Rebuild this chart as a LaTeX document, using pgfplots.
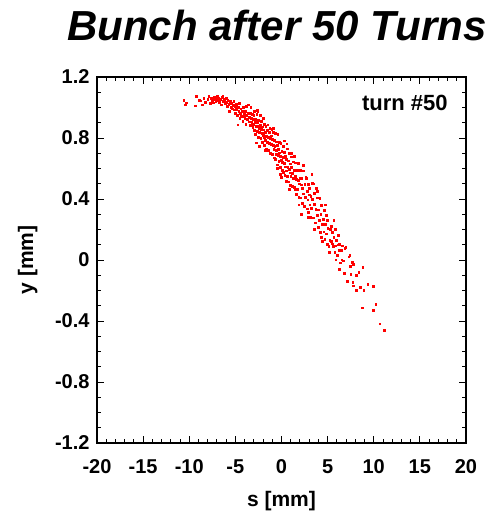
\documentclass[border=0pt]{standalone}
\usepackage{pgfplots}
\pgfplotsset{compat=1.18}
\usepackage{fontspec}
\setmainfont{Liberation Sans}
\begin{document}
\begin{tikzpicture}
\useasboundingbox (0,0) rectangle (491pt,520pt);
\begin{axis}[
  at={(97pt,77pt)}, anchor=south west,
  scale only axis, width=369pt, height=366pt,
  xmin=-20, xmax=20, ymin=-1.2, ymax=1.2,
  xtick={-20,-15,-10,-5,0,5,10,15,20},
  ytick={-1.2,-0.8,-0.4,0,0.4,0.8,1.2},
  minor x tick num=4, minor y tick num=3,
  tick align=inside,
  major tick length=7pt, minor tick length=4pt,
  every tick/.style={black, line width=0.9pt},
  axis line style={line width=1.3pt},
  /pgf/number format/assume math mode=true,
  tick label style={font=\fontsize{20}{24}\selectfont\bfseries},
  xticklabel style={yshift=-13pt},
  yticklabel style={xshift=-4pt, /pgf/number format/fixed, /pgf/number format/precision=1},
  xlabel={s [mm]}, ylabel={y [mm]},
  label style={font=\fontsize{21}{25}\selectfont\bfseries},
  xlabel style={at={(axis description cs:0.5,-0.158)}, anchor=center},
  ylabel style={at={(axis description cs:-0.188,0.5)}, anchor=center},
]
\addplot[red, only marks, mark=square*, mark size=0.9pt, mark options={solid, draw=red, fill=red, line width=0pt}] table[row sep=\\] {
x y\\
-10.57 1.044\\ -10.43 1.016\\ -10.3 1.03\\ -9.24 1.071\\ -9.34 1.01\\
-8.9 1.045\\ -8.76 1.043\\ -8.58 1.016\\ -8.4 1.06\\ -8.2 1.035\\ -7.97 1.05\\ -7.85 1.07\\ -7.7 1.025\\
-7.6 1.06\\ -7.5 1.045\\ -7.4 1.03\\ -7.3 1.068\\ -7.2 1.05\\ -7.1 1.04\\ -7.05 1.062\\
-6.96 1.071\\ -6.9 1.045\\ -6.8 1.06\\ -6.7 1.035\\ -6.62 1.055\\ -6.5 1.016\\ -6.45 1.065\\ -6.34 1.071\\
-6.3 1.04\\ -6.2 1.05\\ -6.1 1.025\\ -6.0 1.06\\ -5.95 1.035\\ -5.85 1.005\\ -5.8 1.045\\ -5.7 1.02\\
-5.62 0.973\\ -5.55 1.04\\ -5.45 1.0\\ -5.4 1.025\\ -5.3 0.99\\ -5.2 1.015\\ -5.15 1.04\\ -5.07 0.984\\ -5.02 1.005\\
-4.98 0.96\\ -4.9 1.02\\ -4.85 0.985\\ -4.8 0.945\\ -4.72 0.95\\ -4.7 1.0\\ -4.6 0.975\\ -4.53 1.027\\
-4.5 0.93\\ -4.45 0.96\\ -4.38 0.99\\ -4.3 0.94\\ -4.25 0.975\\ -4.17 0.907\\ -4.1 1.0\\ -4.05 0.955\\
-4.0 0.94\\ -3.95 0.925\\ -3.9 0.975\\ -3.85 0.89\\ -3.81 1.005\\ -3.75 0.95\\ -3.7 0.92\\ -3.62 0.96\\
-3.56 1.016\\ -3.5 0.935\\ -3.45 0.905\\ -3.4 0.96\\ -3.35 0.88\\ -3.27 0.93\\ -3.2 0.9\\ -3.15 0.955\\
-3.1 0.87\\ -3.05 0.92\\ -3.0 0.89\\ -4.72 0.885\\ -3.3 1.0\\ -2.6 0.98\\
-2.97 0.945\\ -2.93 0.848\\ -2.9 0.975\\ -2.88 0.9\\ -2.82 0.823\\ -2.78 0.922\\ -2.73 0.767\\ -2.7 0.875\\
-2.66 0.954\\ -2.62 0.843\\ -2.58 0.9\\ -2.55 0.97\\ -2.53 0.879\\ -2.48 0.804\\ -2.45 0.917\\ -2.41 0.862\\
-2.37 0.745\\ -2.35 0.836\\ -2.3 0.949\\ -2.27 0.88\\ -2.22 0.797\\ -2.19 0.856\\ -2.15 0.91\\ -2.1 0.828\\
-2.06 0.772\\ -2.02 0.872\\ -1.98 0.928\\ -1.94 0.818\\ -1.9 0.853\\ -1.86 0.749\\ -1.83 0.805\\ -1.8 0.891\\
-1.76 0.836\\ -1.72 0.781\\ -1.68 0.873\\ -1.63 0.81\\ -1.6 0.728\\ -1.55 0.848\\ -1.5 0.772\\ -1.46 0.885\\
-1.42 0.802\\ -1.38 0.72\\ -1.33 0.834\\ -1.28 0.765\\ -1.24 0.864\\ -1.2 0.796\\ -1.15 0.699\\ -1.1 0.813\\
-1.05 0.758\\ -1.02 0.857\\ -1.7 0.72\\
-0.98 0.789\\ -0.95 0.692\\ -0.9 0.749\\ -0.86 0.834\\ -0.82 0.724\\ -0.78 0.669\\ -0.75 0.782\\ -0.7 0.742\\
-0.66 0.827\\ -0.62 0.66\\ -0.58 0.718\\ -0.55 0.774\\ -0.5 0.692\\ -0.46 0.623\\ -0.42 0.75\\ -0.38 0.822\\
-0.34 0.683\\ -0.3 0.726\\ -0.26 0.644\\ -0.22 0.771\\ -0.18 0.702\\ -0.14 0.606\\ -0.1 0.677\\ -0.06 0.762\\
-0.02 0.651\\ 0.02 0.541\\ 0.05 0.71\\ 0.1 0.641\\ 0.14 0.586\\ 0.18 0.742\\ 0.22 0.673\\ 0.26 0.576\\
0.3 0.634\\ 0.34 0.705\\ 0.38 0.552\\ 0.42 0.61\\ 0.46 0.681\\ 0.5 0.584\\ 0.54 0.516\\ 0.58 0.657\\
0.62 0.728\\ 0.66 0.548\\ 0.7 0.605\\ 0.75 0.649\\ 0.8 0.511\\ 0.84 0.596\\ 0.88 0.696\\ 0.92 0.571\\
0.96 0.489\\ 0.99 0.63\\ -0.9 0.86\\ -0.4 0.6\\ 0.3 0.78\\ 0.6 0.76\\ -0.1 0.56\\
1.03 0.547\\ 1.08 0.675\\ 1.12 0.606\\ 1.17 0.482\\ 1.22 0.568\\ 1.28 0.536\\ 1.32 0.642\\ 1.38 0.476\\
1.42 0.589\\ 1.46 0.464\\ 1.5 0.55\\ 1.55 0.636\\ 1.6 0.428\\ 1.65 0.528\\ 1.7 0.586\\ 1.75 0.462\\
1.8 0.632\\ 1.85 0.522\\ 1.9 0.412\\ 1.95 0.498\\ 2.0 0.535\\ 2.05 0.586\\ 2.1 0.406\\ 2.15 0.492\\
2.2 0.536\\ 2.25 0.37\\ 2.3 0.47\\ 2.35 0.584\\ 2.42 0.433\\ 2.48 0.351\\ 2.55 0.494\\ 2.6 0.412\\
2.66 0.54\\ 2.73 0.533\\ 2.78 0.334\\ 2.83 0.448\\ 2.88 0.394\\ 2.93 0.494\\ 2.97 0.313\\ 3.0 0.426\\
0.9 0.46\\ 1.4 0.68\\ 1.9 0.36\\ 2.4 0.62\\ 2.9 0.28\\ 1.1 0.7\\ 2.2 0.3\\
3.05 0.47\\ 3.1 0.36\\ 3.15 0.278\\ 3.2 0.419\\ 3.26 0.337\\ 3.32 0.5\\ 3.38 0.398\\ 3.45 0.498\\
3.5 0.276\\ 3.56 0.363\\ 3.62 0.435\\ 3.68 0.242\\ 3.74 0.329\\ 3.81 0.47\\ 3.86 0.292\\ 3.92 0.406\\
3.98 0.213\\ 4.04 0.328\\ 4.1 0.26\\ 4.17 0.404\\ 4.22 0.182\\ 4.28 0.296\\ 4.35 0.355\\ 4.42 0.232\\
4.47 0.12\\ 4.53 0.265\\ 4.6 0.184\\ 4.66 0.327\\ 4.72 0.134\\ 4.78 0.234\\ 4.84 0.293\\ 4.9 0.17\\
4.95 0.102\\ 5.0 0.258\\ 5.05 0.204\\ 3.3 0.56\\ 3.9 0.45\\ 4.3 0.15\\ 4.8 0.36\\ 3.6 0.2\\
5.15 0.087\\ 5.26 0.13\\ 5.3 0.2\\ 5.4 0.12\\ 5.5 0.105\\ 5.56 0.18\\ 5.62 0.087\\ 5.7 0.15\\
5.8 0.05\\ 5.91 0.092\\ 6.0 0.13\\ 6.1 0.03\\ 6.16 0.098\\ 6.27 0.1\\ 6.31 0.064\\ 6.4 -0.02\\
6.5 0.06\\ 6.62 0.092\\ 6.74 -0.007\\ 6.88 0.077\\ 7.0 0.083\\ 6.55 0.0\\ 6.2 0.16\\ 5.85 0.2\\ 5.45 0.22\\
5.2 0.05\\ 5.7 0.26\\ 6.3 -0.06\\ 5.9 0.0\\ 6.8 -0.09\\
7.17 -0.14\\ 7.32 0.02\\ 7.43 0.028\\ 7.5 -0.044\\ 7.53 -0.096\\ 7.71 -0.015\\ 7.75 -0.15\\ 7.79 -0.17\\
7.83 -0.03\\ 8.1 -0.10\\ 8.15 -0.2\\ 8.4 -0.083\\ 8.58 -0.18\\ 8.83 -0.05\\ 8.94 -0.2\\
9.38 -0.16\\ 10.0 -0.175\\ 8.8 -0.315\\ 10.0 -0.33\\ 10.24 -0.29\\ 10.68 -0.42\\ 11.2 -0.46\\
};
\node[anchor=east, font=\fontsize{22}{26}\selectfont\bfseries] at (axis cs:18.4,1.03) {turn \#50};
\end{axis}
\node[anchor=base, font=\fontsize{42}{50}\selectfont\bfseries\itshape] at (277pt,479pt) {Bunch after 50 Turns};
\end{tikzpicture}
\end{document}
